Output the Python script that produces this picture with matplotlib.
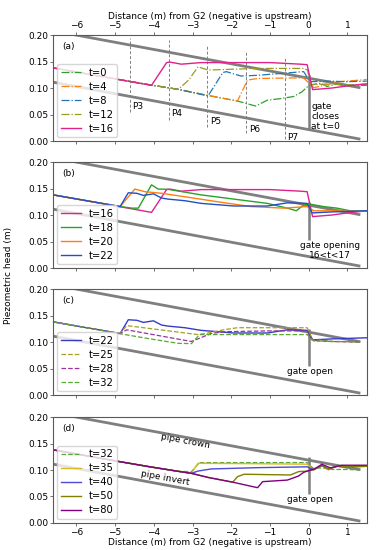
import matplotlib
matplotlib.use("Agg")
import matplotlib.pyplot as plt

plt.rcParams["font.size"] = 6.5

# pipe geometry (distance from G2, m)
pipe_x = [-6.6, 1.3]
crown_y = [0.208, 0.101]
invert_y = [0.111, 0.004]
gate_x = 0.0

# pressure sensors P3..P7
sensor_names = ["P3", "P4", "P5", "P6", "P7"]
sensor_x = [-4.62, -3.62, -2.62, -1.62, -0.62]
sensor_top = [0.195, 0.19, 0.18, 0.168, 0.158]
sensor_bot = [0.055, 0.04, 0.027, 0.015, 0.003]
sensor_lab = [0.066, 0.051, 0.036, 0.021, 0.006]

# ---- (a) gate closure
t0_x = [-6.6, -4.9, -4.1, -3.37, -2.6, -1.84, -1.37, -1.07, -0.73, -0.39, -0.17, -0.04, 0.04, 0.3, 0.47, 0.7, 1.0, 1.5]
t0_y = [0.138, 0.116, 0.106, 0.0975, 0.086, 0.0755, 0.066, 0.077, 0.080, 0.084, 0.093, 0.102, 0.106, 0.109, 0.103, 0.107, 0.105, 0.105]
t4_x = [-6.6, -4.9, -4.1, -3.37, -2.6, -1.84, -1.58, -1.32, -0.5, -0.13, 0.13, 0.81, 1.5]
t4_y = [0.138, 0.116, 0.106, 0.0975, 0.086, 0.0755, 0.115, 0.118, 0.119, 0.119, 0.1006, 0.112, 0.116]
t8_x = [-6.6, -4.9, -4.1, -3.37, -2.6, -2.22, -2.13, -1.75, -1.32, -0.64, -0.13, -0.02, 0.04, 0.5, 1.0, 1.5]
t8_y = [0.138, 0.116, 0.106, 0.0975, 0.085, 0.129, 0.131, 0.1226, 0.124, 0.128, 0.131, 0.118, 0.112, 0.113, 0.112, 0.113]
t12_x = [-6.6, -4.9, -4.1, -3.37, -3.1, -2.86, -2.6, -1.32, -0.13, -0.03, 0.05, 0.56, 1.0, 1.5]
t12_y = [0.138, 0.116, 0.106, 0.0975, 0.115, 0.140, 0.134, 0.137, 0.137, 0.134, 0.106, 0.108, 0.106, 0.107]
t16_x = [-6.6, -4.9, -4.06, -3.67, -3.59, -3.29, -2.78, -2.0, -1.0, -0.21, -0.04, 0.1, 0.6, 1.0, 1.5]
t16_y = [0.138, 0.116, 0.105, 0.148, 0.149, 0.145, 0.148, 0.148, 0.148, 0.145, 0.144, 0.097, 0.100, 0.104, 0.108]

# ---- (b) gate opening
t18_x = [-6.6, -4.87, -4.57, -4.4, -4.06, -3.89, -3.63, -2.78, -1.93, -1.07, -0.5, -0.32, -0.13, 0.0, 0.38, 0.73, 1.07, 1.5]
t18_y = [0.138, 0.116, 0.113, 0.113, 0.157, 0.149, 0.1485, 0.138, 0.130, 0.122, 0.112, 0.108, 0.119, 0.121, 0.116, 0.113, 0.108, 0.107]
t20_x = [-6.6, -4.87, -4.49, -4.23, -3.8, -3.2, -2.35, -1.5, -0.64, -0.04, 0.13, 0.6, 1.0, 1.5]
t20_y = [0.138, 0.116, 0.149, 0.144, 0.141, 0.1345, 0.125, 0.116, 0.113, 0.116, 0.108, 0.108, 0.107, 0.107]
t22_x = [-6.6, -4.87, -4.66, -4.44, -4.27, -4.01, -3.8, -3.63, -3.2, -2.78, -1.93, -1.07, -0.55, -0.04, 0.09, 0.64, 1.5]
t22_y = [0.138, 0.116, 0.142, 0.141, 0.137, 0.140, 0.132, 0.130, 0.127, 0.122, 0.117, 0.117, 0.123, 0.122, 0.104, 0.106, 0.108]

# ---- (c) gate open
t25_x = [-6.6, -4.87, -4.7, -2.86, -2.6, -2.2, -1.84, -1.0, -0.04, 0.12, 0.6, 1.33]
t25_y = [0.138, 0.116, 0.131, 0.114, 0.117, 0.123, 0.127, 0.127, 0.127, 0.102, 0.101, 0.100]
t28_x = [-6.6, -4.87, -4.7, -3.03, -2.52, -2.18, -1.0, -0.04, 0.12, 0.6, 1.33]
t28_y = [0.138, 0.116, 0.123, 0.101, 0.116, 0.1195, 0.121, 0.121, 0.103, 0.101, 0.100]
t32_x = [-6.6, -4.9, -4.1, -3.37, -3.03, -2.82, -1.5, -0.04, 0.12, 0.34, 0.6, 1.0, 1.33]
t32_y = [0.138, 0.116, 0.106, 0.0975, 0.097, 0.114, 0.114, 0.114, 0.103, 0.104, 0.101, 0.101, 0.100]

# ---- (d) late times
t35_x = [-6.6, -4.9, -4.1, -3.37, -3.03, -2.86, -1.5, -0.04, 0.13, 0.34, 0.51, 0.73, 0.99, 1.5]
t35_y = [0.138, 0.116, 0.106, 0.0975, 0.094, 0.1126, 0.112, 0.111, 0.100, 0.109, 0.100, 0.1075, 0.106, 0.107]
t40_x = [-6.6, -4.9, -4.1, -3.37, -3.03, -2.86, -2.52, -1.32, -0.04, 0.13, 0.34, 0.51, 0.73, 0.99, 1.5]
t40_y = [0.138, 0.116, 0.106, 0.0975, 0.0937, 0.098, 0.102, 0.1044, 0.106, 0.101, 0.108, 0.102, 0.107, 0.106, 0.107]
t50_x = [-6.6, -4.9, -4.1, -3.37, -3.03, -2.6, -1.96, -1.84, -1.67, -0.47, -0.26, 0.0, 0.13, 0.34, 0.51, 0.73, 0.99, 1.5]
t50_y = [0.138, 0.116, 0.106, 0.0975, 0.0937, 0.086, 0.077, 0.0874, 0.092, 0.0906, 0.097, 0.098, 0.101, 0.109, 0.102, 0.107, 0.106, 0.107]
t80_x = [-6.6, -4.9, -4.1, -3.37, -3.03, -2.6, -1.96, -1.32, -1.19, -0.55, -0.26, -0.13, 0.04, 0.13, 0.34, 0.56, 0.86, 1.5]
t80_y = [0.138, 0.116, 0.106, 0.0975, 0.0937, 0.086, 0.077, 0.0666, 0.078, 0.081, 0.0887, 0.0956, 0.100, 0.101, 0.1107, 0.104, 0.109, 0.109]

fig = plt.figure(figsize=(3.91, 5.5), dpi=100)
left, width, height = 0.136, 0.802, 0.1927
bottoms = [0.7436, 0.5127, 0.2818, 0.0491]
axes = [fig.add_axes([left, b, width, height]) for b in bottoms]

pipe_col = "#7f7f7f"
for ax, tag in zip(axes, ["(a)", "(b)", "(c)", "(d)"]):
    ax.plot(pipe_x, crown_y, color=pipe_col, lw=2)
    ax.plot(pipe_x, invert_y, color=pipe_col, lw=2)
    ax.set_xlim(-6.6, 1.5)
    ax.set_ylim(0, 0.2)
    ax.set_xticks(range(-6, 2))
    ax.set_yticks([0, 0.05, 0.1, 0.15, 0.2])
    ax.set_yticklabels(["0.00", "0.05", "0.10", "0.15", "0.20"])
    ax.text(0.03, 0.89, tag, transform=ax.transAxes, va="center")
    for s in ax.spines.values():
        s.set_color("0.35")
    ax.tick_params(labelbottom=False, length=2, width=0.6, pad=1.5, color="0.35")

axa, axb, axc, axd = axes

# (a)
axa.vlines(gate_x, 0.02, 0.125, color=pipe_col, lw=1.8)
for name, x, t, b, yl in zip(sensor_names, sensor_x, sensor_top, sensor_bot, sensor_lab):
    axa.plot([x, x], [b, t], color="0.5", lw=0.7, ls=(0, (3, 2)))
    axa.text(x + 0.07, yl, name, va="center", ha="left")
axa.plot(t0_x, t0_y, color="#2ca02c", lw=0.9, ls="-.", label="t=0")
axa.plot(t4_x, t4_y, color="#ff7f0e", lw=0.9, ls="-.", label="t=4")
axa.plot(t8_x, t8_y, color="#1f77b4", lw=0.9, ls="-.", label="t=8")
axa.plot(t12_x, t12_y, color="#9b9b22", lw=0.9, ls="-.", label="t=12")
axa.plot(t16_x, t16_y, color="#e0218a", lw=1.0, label="t=16")
axa.text(0.06, 0.046, "gate\ncloses\nat t=0", ha="left", va="center", linespacing=1.1)
axa.tick_params(top=True, labeltop=True)
axa.xaxis.set_label_position("top")
axa.set_xlabel("Distance (m) from G2 (negative is upstream)", labelpad=1.5)

# (b)
axb.vlines(gate_x, 0.053, 0.125, color=pipe_col, lw=1.8)
axb.plot(t16_x, t16_y, color="#e0218a", lw=1.0, label="t=16")
axb.plot(t18_x, t18_y, color="#2ca02c", lw=1.0, label="t=18")
axb.plot(t20_x, t20_y, color="#ff7f0e", lw=1.0, label="t=20")
axb.plot(t22_x, t22_y, color="#2050c8", lw=1.0, label="t=22")
axb.text(0.56, 0.033, "gate opening\n16<t<17", ha="center", va="center", linespacing=1.1)

# (c)
axc.vlines(gate_x, 0.055, 0.125, color=pipe_col, lw=1.8)
axc.plot(t22_x, t22_y, color="#3a3ac8", lw=1.0, label="t=22")
axc.plot(t25_x, t25_y, color="#a8a020", lw=0.9, ls="--", label="t=25")
axc.plot(t28_x, t28_y, color="#9932a0", lw=0.9, ls="--", label="t=28")
axc.plot(t32_x, t32_y, color="#58a832", lw=0.9, ls="--", label="t=32")
axc.text(0.04, 0.044, "gate open", ha="center", va="center")

# (d)
axd.vlines(gate_x, 0.055, 0.125, color=pipe_col, lw=1.8)
axd.plot(t32_x, t32_y, color="#58a832", lw=0.9, ls="--", label="t=32")
axd.plot(t35_x, t35_y, color="#dcb81e", lw=1.0, label="t=35")
axd.plot(t40_x, t40_y, color="#4b4bd6", lw=1.0, label="t=40")
axd.plot(t50_x, t50_y, color="#808000", lw=1.0, label="t=50")
axd.plot(t80_x, t80_y, color="#800080", lw=1.0, label="t=80")
axd.text(0.04, 0.045, "gate open", ha="center", va="center")
axd.text(-3.18, 0.155, "pipe crown", rotation=-10.5, ha="center", va="center", rotation_mode="anchor")
axd.text(-3.7, 0.084, "pipe invert", rotation=-10.5, ha="center", va="center", rotation_mode="anchor")
axd.tick_params(labelbottom=True)
axd.set_xlabel("Distance (m) from G2 (negative is upstream)", labelpad=1)

for ax in axes:
    ax.legend(loc="lower left", fontsize=7.2, handlelength=2.0, borderpad=0.35,
              labelspacing=0.4, borderaxespad=0.4)

fig.text(0.022, 0.5, "Piezometric head (m)", rotation=90, va="center", ha="center")

fig.savefig("out.png", dpi=100)
